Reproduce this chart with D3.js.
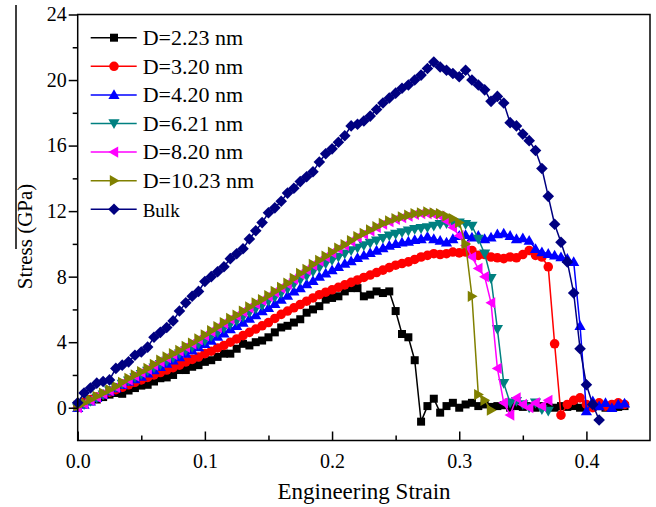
<!DOCTYPE html>
<html>
<head>
<meta charset="utf-8">
<script src="https://cdn.jsdelivr.net/npm/d3@7"></script>
<style>
  body { margin: 0; background: #fff; }
  svg text { font-family: "Liberation Serif", "Times New Roman", serif; fill: #000; }
</style>
</head>
<body>
<div id="chart"></div>
<script>
// Strain grid shared by all curves
const strain = [0,0.005,0.01,0.015,0.02,0.025,0.03,0.035,0.04,0.045,
  0.05,0.055,0.06,0.065,0.07,0.075,0.08,0.085,0.09,0.095,
  0.1,0.105,0.11,0.115,0.12,0.125,0.13,0.135,0.14,0.145,
  0.15,0.155,0.16,0.165,0.17,0.175,0.18,0.185,0.19,0.195,
  0.2,0.205,0.21,0.215,0.22,0.225,0.23,0.235,0.24,0.245,
  0.25,0.255,0.26,0.265,0.27,0.275,0.28,0.285,0.29,0.295,
  0.3,0.305,0.31,0.315,0.32,0.325,0.33,0.335,0.34,0.345,
  0.35,0.355,0.36,0.365,0.37,0.375,0.38,0.385,0.39,0.395,
  0.4,0.405,0.41,0.415,0.42,0.425,0.43];

// Stress (GPa) per diameter
const d223 = [0.1,0.25,0.4,0.5,0.65,0.8,0.9,0.85,1.05,1.2,
  1.35,1.4,1.6,1.8,1.85,2.0,2.3,2.3,2.5,2.6,
  2.8,2.9,3.1,3.3,3.3,3.6,3.9,3.8,4.0,4.1,
  4.3,4.6,4.9,5.0,5.2,5.4,5.8,6.0,6.2,6.6,
  6.7,6.8,7.1,7.3,7.3,6.8,6.9,7.1,7.0,7.1,
  5.9,4.5,4.3,2.9,-0.85,0.1,0.55,-0.3,0.1,0.3,
  0.0,0.2,0.3,0.1,0.2,0.05,0.1,0.15,0.0,0.1,
  0.05,0.1,0.0,0.1,0.05,0.0,0.1,0.05,0.1,0.0,
  0.1,0.05,0.1,0.0,0.1,0.05,0.1];
const d320 = [0.2,0.35,0.5,0.65,0.8,0.95,1.1,1.25,1.4,1.55,
  1.7,1.85,2.0,2.15,2.3,2.45,2.6,2.8,2.95,3.1,
  3.3,3.45,3.65,3.8,4.0,4.2,4.4,4.6,4.8,5.0,
  5.2,5.45,5.7,5.9,6.1,6.3,6.5,6.7,6.9,7.05,
  7.2,7.35,7.5,7.65,7.8,7.95,8.1,8.25,8.4,8.55,
  8.7,8.8,8.9,9.05,9.2,9.3,9.4,9.35,9.4,9.5,
  9.45,9.5,9.6,9.3,9.35,9.2,9.15,9.1,9.2,9.15,
  9.35,9.6,9.3,9.2,8.6,3.9,-0.45,0.2,0.45,0.6,
  0.2,0.0,0.3,0.1,0.2,0.3,0.2];
const d420 = [0.0,0.2,0.4,0.6,0.8,1.0,1.2,1.4,1.6,1.75,
  1.9,2.1,2.3,2.5,2.7,2.9,3.1,3.3,3.5,3.7,
  3.9,4.1,4.35,4.55,4.8,5.0,5.2,5.45,5.65,5.9,
  6.1,6.35,6.6,6.85,7.1,7.3,7.55,7.75,8.0,8.2,
  8.4,8.6,8.8,8.95,9.15,9.3,9.45,9.6,9.75,9.9,
  10.0,10.1,10.15,10.25,10.3,10.45,10.3,10.2,10.1,10.3,
  10.5,10.55,10.4,10.5,10.3,10.4,10.6,10.65,10.5,10.3,
  10.35,10.2,9.7,9.5,9.4,9.3,9.2,9.1,8.9,5.0,
  -0.2,0.4,0.1,0.3,0.0,0.2,0.27];
const d621 = [0.0,0.2,0.4,0.6,0.8,1.05,1.25,1.45,1.65,1.85,
  2.05,2.25,2.45,2.65,2.85,3.05,3.3,3.5,3.7,3.9,
  4.1,4.35,4.6,4.85,5.1,5.3,5.55,5.8,6.05,6.25,
  6.5,6.75,7.0,7.25,7.55,7.8,8.05,8.3,8.55,8.8,
  9.0,9.2,9.4,9.6,9.75,9.9,10.05,10.2,10.35,10.5,
  10.6,10.7,10.8,10.9,10.95,11.0,11.1,11.2,11.25,11.3,
  11.3,11.2,11.1,10.3,9.4,7.9,4.8,1.5,0.3,0.4,
  0.2,0.0,0.3,-0.1,-0.2];
const d820 = [0.0,0.25,0.45,0.65,0.85,1.05,1.25,1.5,1.7,1.95,
  2.15,2.35,2.6,2.8,3.05,3.25,3.45,3.7,3.9,4.15,
  4.4,4.65,4.9,5.15,5.4,5.6,5.85,6.1,6.35,6.55,
  6.8,7.05,7.3,7.55,7.85,8.15,8.4,8.7,8.95,9.2,
  9.45,9.7,9.9,10.15,10.4,10.6,10.8,11.0,11.2,11.35,
  11.5,11.6,11.7,11.8,11.85,11.85,11.8,11.7,11.4,11.0,
  10.5,9.9,9.2,8.5,8.0,6.4,2.4,0.3,-0.45,0.6,
  0.2,0.0,0.3,0.1,0.45];
const d1023 = [0.1,0.3,0.5,0.7,0.9,1.1,1.3,1.55,1.8,2.0,
  2.2,2.4,2.65,2.9,3.1,3.3,3.5,3.75,3.95,4.2,
  4.45,4.7,4.95,5.2,5.45,5.65,5.9,6.15,6.4,6.6,
  6.85,7.1,7.35,7.6,7.9,8.2,8.45,8.75,9.0,9.25,
  9.5,9.75,9.95,10.2,10.45,10.65,10.85,11.05,11.25,11.4,
  11.55,11.65,11.75,11.85,11.9,11.95,11.9,11.85,11.7,11.55,
  11.3,10.0,6.8,0.8,0.45,-0.15];
const bulk = [0.3,0.9,1.2,1.5,1.6,1.7,2.4,2.6,2.8,3.2,
  3.4,3.7,4.3,4.6,4.9,5.3,5.9,6.4,6.8,7.1,
  7.7,8.0,8.3,8.6,9.1,9.4,9.7,10.3,10.8,11.3,
  11.9,12.2,12.6,13.1,13.4,13.8,14.1,14.4,15.0,15.5,
  15.8,16.2,16.6,17.2,17.3,17.5,17.8,18.2,18.6,18.9,
  19.2,19.5,19.7,20.0,20.3,20.7,21.1,20.8,20.6,20.4,
  20.2,20.6,20.0,19.7,19.4,18.7,19.0,18.6,17.4,17.2,
  16.7,16.3,15.7,14.6,12.9,11.2,10.1,8.9,7.0,3.6,
  1.4,0.2,-0.75];

const seriesNames = ['D=2.23 nm', 'D=3.20 nm', 'D=4.20 nm', 'D=6.21 nm', 'D=8.20 nm', 'D=10.23 nm', 'Bulk'];
const seriesValues = [d223, d320, d420, d621, d820, d1023, bulk];
const colors = ['#000000', '#ff0000', '#0000ff', '#008080', '#ff00ff', '#808000', '#000080'];
const shapes = ['square', 'circle', 'up', 'down', 'left', 'right', 'diamond'];

const yMajor = [0, 4, 8, 12, 16, 20, 24];
const yMinor = [2, 6, 10, 14, 18, 22];
const xMajor = [0, 0.1, 0.2, 0.3, 0.4];
const xMinor = [0.05, 0.15, 0.25, 0.35];

// Layout
const width = 656, height = 507;
const margin = { top: 14.5, right: 6, bottom: 66.5, left: 77.7 };
const w = width - margin.left - margin.right;
const h = height - margin.top - margin.bottom;

const svg = d3.select('#chart').append('svg')
  .attr('width', width)
  .attr('height', height);

const g = svg.append('g').attr('transform', `translate(${margin.left},${margin.top})`);

const x = d3.scaleLinear().domain([0, 0.45]).range([0, w]);
const y = d3.scaleLinear().domain([-2, 24]).range([h, 0]);

// marker paths
function symbolPath(shape) {
  const t = 5.6, b = 4.2;
  switch (shape) {
    case 'square': return 'M-4,-4h8v8h-8z';
    case 'circle': return d3.symbol(d3.symbolCircle, 72)();
    case 'up': return `M0,${-t}L${t},${b}L${-t},${b}Z`;
    case 'down': return `M0,${t}L${t},${-b}L${-t},${-b}Z`;
    case 'left': return `M${-t},0L${b},${-t}L${b},${t}Z`;
    case 'right': return `M${t},0L${-b},${-t}L${-b},${t}Z`;
    case 'diamond': return 'M0,-5.8L5.8,0L0,5.8L-5.8,0Z';
  }
}

// Curves
const line = d3.line().x(d => x(d[0])).y(d => y(d[1]));
const plot = g.append('g');
seriesValues.forEach((vals, i) => {
  const pts = vals.map((v, k) => [strain[k], v]);
  const sg = plot.append('g');
  sg.append('path')
    .datum(pts)
    .attr('d', line)
    .attr('fill', 'none')
    .attr('stroke', colors[i])
    .attr('stroke-width', 1.5);
  sg.selectAll('path.m')
    .data(pts)
    .enter().append('path')
    .attr('class', 'm')
    .attr('d', symbolPath(shapes[i]))
    .attr('transform', d => `translate(${x(d[0])},${y(d[1])})`)
    .attr('fill', colors[i]);
});

// Frame
g.append('rect')
  .attr('width', w).attr('height', h)
  .attr('fill', 'none').attr('stroke', '#000').attr('stroke-width', 1.5);

// Y axis: outward ticks
g.append('g')
  .call(d3.axisLeft(y).tickValues(yMajor).tickSize(9).tickPadding(2).tickFormat(d3.format('d')));
g.append('g')
  .call(d3.axisLeft(y).tickValues(yMinor).tickSize(5).tickFormat(''));

// X axis: inward ticks
g.append('g')
  .attr('transform', `translate(0,${h})`)
  .call(d3.axisBottom(x).tickValues(xMajor).tickSizeInner(-9).tickSizeOuter(0).tickPadding(13).tickFormat(d3.format('.1f')));
g.append('g')
  .attr('transform', `translate(0,${h})`)
  .call(d3.axisBottom(x).tickValues(xMinor).tickSizeInner(-5).tickSizeOuter(0).tickFormat(''));

g.selectAll('.domain').remove();
g.selectAll('.tick line').attr('stroke', '#000').attr('stroke-width', 1.5);
g.selectAll('.tick text')
  .style('font-family', '"Liberation Serif", serif')
  .style('font-size', '20px')
  .attr('fill', '#000');

// Axis titles
svg.append('text')
  .attr('x', 364).attr('y', 499)
  .attr('text-anchor', 'middle')
  .style('font-size', '23px')
  .text('Engineering Strain');

svg.append('text')
  .attr('transform', 'translate(32,236.5) rotate(-90)')
  .attr('text-anchor', 'middle')
  .style('font-size', '21px')
  .text('Stress (GPa)');

// stray vertical line at left edge of the original image
svg.append('line')
  .attr('x1', 16).attr('x2', 16).attr('y1', 5).attr('y2', 249)
  .attr('stroke', '#000').attr('stroke-width', 1.5);

// Legend
const legend = svg.append('g');
seriesNames.forEach((name, i) => {
  const cy = 37.7 + i * 28.6;
  legend.append('line')
    .attr('x1', 90.7).attr('x2', 136.7).attr('y1', cy).attr('y2', cy)
    .attr('stroke', colors[i]).attr('stroke-width', 1.5);
  legend.append('path')
    .attr('d', symbolPath(shapes[i]))
    .attr('transform', `translate(114,${cy})`)
    .attr('fill', colors[i]);
  legend.append('text')
    .attr('x', 142.7).attr('y', cy + 7.3)
    .style('font-size', name === 'Bulk' ? '19px' : '22px')
    .text(name);
});
</script>
</body>
</html>
